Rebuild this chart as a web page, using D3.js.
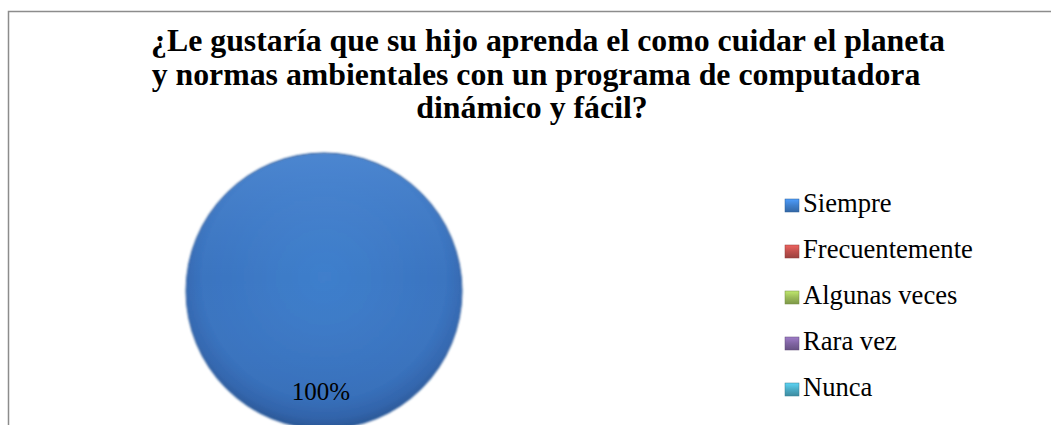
<!DOCTYPE html>
<html>
<head>
<meta charset="utf-8">
<script src="https://cdn.jsdelivr.net/npm/d3@7"></script>
<style>
  html, body { margin: 0; padding: 0; background: #fff; }
  svg { display: block; }
</style>
</head>
<body>
<svg id="chart" width="1051" height="425"></svg>
<script>
const categories = ["Siempre", "Frecuentemente", "Algunas veces", "Rara vez", "Nunca"];
const values = [100, 0, 0, 0, 0];
const colors = ["#3f7fcc", "#c0504d", "#9bbb59", "#8064a2", "#4bacc6"];
const titleLines = [
  "¿Le gustaría que su hijo aprenda el como cuidar el planeta",
  "y normas ambientales con un programa de computadora",
  "dinámico y fácil?"
];

const svg = d3.select("#chart");
const W = 1051, H = 425;
const font = "'Liberation Serif', 'Times New Roman', serif";

// border
svg.append("rect")
  .attr("x", 8.5).attr("y", 11.5)
  .attr("width", W + 50).attr("height", H + 50)
  .attr("fill", "#fff").attr("stroke", "#8c8c8c").attr("stroke-width", 1.5);

// title
const titleX = [548, 536, 532];
svg.append("g").selectAll("text").data(titleLines).join("text")
  .attr("x", (d, i) => titleX[i])
  .attr("y", (d, i) => 51 + i * 33.5)
  .attr("text-anchor", "middle")
  .attr("font-family", font)
  .attr("font-weight", "bold")
  .attr("font-size", 31.8)
  .attr("fill", "#000")
  .text(d => d);

// gradients
const defs = svg.append("defs");
const rg = defs.append("radialGradient").attr("id", "pieGrad")
  .attr("cx", "50%").attr("cy", "45%").attr("r", "55%");
rg.append("stop").attr("offset", "0%").attr("stop-color", "#3f7fcc");
rg.append("stop").attr("offset", "80%").attr("stop-color", "#3a74c0");
rg.append("stop").attr("offset", "93%").attr("stop-color", "#3568b0");
rg.append("stop").attr("offset", "100%").attr("stop-color", "#2c5a98");

const lg = defs.append("linearGradient").attr("id", "pieShade")
  .attr("x1", "0").attr("y1", "0").attr("x2", "0").attr("y2", "1");
lg.append("stop").attr("offset", "0%").attr("stop-color", "#6aa6ee").attr("stop-opacity", 0.35);
lg.append("stop").attr("offset", "45%").attr("stop-color", "#5a94dd").attr("stop-opacity", 0.0);
lg.append("stop").attr("offset", "100%").attr("stop-color", "#1f4a8a").attr("stop-opacity", 0.2);

const blur = defs.append("filter").attr("id", "soft").attr("x", "-10%").attr("y", "-10%").attr("width", "120%").attr("height", "120%");
blur.append("feGaussianBlur").attr("stdDeviation", 0.8);

// legend square gradients
colors.forEach((c, i) => {
  const g = defs.append("linearGradient").attr("id", "lg" + i)
    .attr("x1", "0").attr("y1", "0").attr("x2", "0").attr("y2", "1");
  g.append("stop").attr("offset", "0%").attr("stop-color", d3.color(c).brighter(0.6));
  g.append("stop").attr("offset", "50%").attr("stop-color", c);
  g.append("stop").attr("offset", "100%").attr("stop-color", d3.color(c).darker(0.6));
});

// pie
const cx = 324, cy = 291, r = 138;
const pie = d3.pie().sort(null).value(d => d)(values);
const arc = d3.arc().innerRadius(0).outerRadius(r);
const pg = svg.append("g").attr("transform", `translate(${cx},${cy})`);
pg.selectAll("path.slice").data(pie.filter(d => d.value > 0)).join("path")
  .attr("class", "slice")
  .attr("d", arc)
  .attr("fill", "url(#pieGrad)")
  .attr("stroke", "#2f5c9a").attr("stroke-width", 1)
  .attr("filter", "url(#soft)");
pg.selectAll("path.shade").data(pie.filter(d => d.value > 0)).join("path")
  .attr("class", "shade")
  .attr("d", d3.arc().innerRadius(0).outerRadius(r - 1))
  .attr("fill", "url(#pieShade)");

// label
const total = d3.sum(values);
pg.selectAll("text").data(pie.filter(d => d.value > 0)).join("text")
  .attr("x", -3)
  .attr("y", r * 0.79)
  .attr("text-anchor", "middle")
  .attr("font-family", font)
  .attr("font-size", 25)
  .attr("fill", "#000")
  .text(d => Math.round(d.value / total * 100) + "%");

// legend
const lgG = svg.append("g");
const rows = lgG.selectAll("g").data(categories).join("g")
  .attr("transform", (d, i) => `translate(785, ${212 + i * 46})`);
rows.append("rect")
  .attr("x", 0).attr("y", -13).attr("width", 14).attr("height", 13)
  .attr("fill", (d, i) => `url(#lg${i})`)
  .attr("stroke", (d, i) => d3.color(colors[i]).darker(0.8)).attr("stroke-width", 0.5);
rows.append("text")
  .attr("x", 18).attr("y", 0)
  .attr("font-family", font)
  .attr("font-size", 26.6)
  .attr("fill", "#000")
  .text(d => d);
</script>
</body>
</html>
